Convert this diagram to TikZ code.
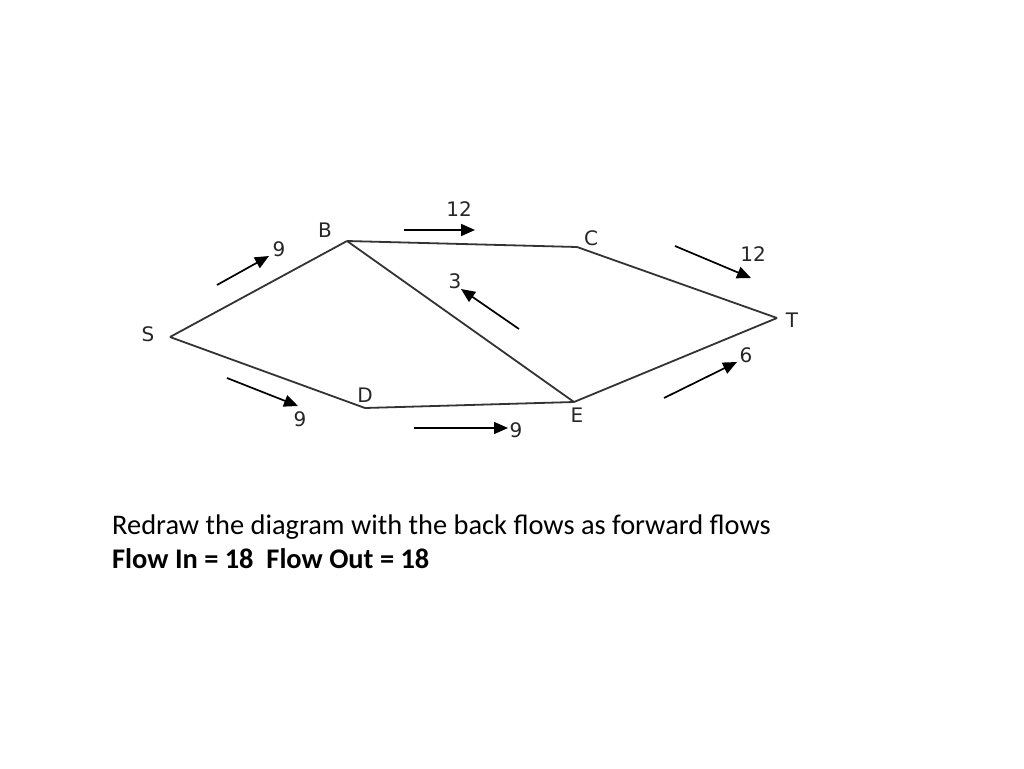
\documentclass[tikz,border=0pt]{standalone}
\usepackage{fontspec}
\setmainfont{Carlito}
\newfontfamily\lblfont{DejaVu Sans}
\usetikzlibrary{arrows.meta}
\begin{document}
\begin{tikzpicture}[x=1pt,y=-1pt,
  edge/.style={draw=black!80,line width=1.8pt},
  flow/.style={draw=black,line width=1.7pt,-{Triangle[length=14pt,width=12pt]}},
  vlbl/.style={font=\lblfont\fontsize{20}{20}\selectfont,inner sep=0pt,text=black!85},
  caption/.style={anchor=base west,inner sep=0pt,font=\fontsize{28.4}{32}\selectfont}]
\useasboundingbox (0,0) rectangle (1024,768);
% vertices
\coordinate (S) at (170,337);
\coordinate (B) at (347,241);
\coordinate (C) at (577,247);
\coordinate (T) at (777,318);
\coordinate (E) at (574,402);
\coordinate (D) at (365,408);
% edges
\draw[edge] (S) -- (B);
\draw[edge] (S) -- (D);
\draw[edge] (B) -- (C);
\draw[edge] (B) -- (E);
\draw[edge] (C) -- (T);
\draw[edge] (D) -- (E);
\draw[edge] (E) -- (T);
% vertex labels
\node[vlbl] (Sl) at (148,334) {S};
\node[vlbl] (Bl) at (325,230) {B};
\node[vlbl] (Cl) at (591,238) {C};
\node[vlbl] (Tl) at (792,320) {T};
\node[vlbl] (El) at (577,415) {E};
\node[vlbl] (Dl) at (365,395) {D};
% flow arrows
\coordinate (sb1) at (217,285); \coordinate (sb2) at (269,256);
\coordinate (sd1) at (227,378); \coordinate (sd2) at (298,406);
\coordinate (bc1) at (404,230); \coordinate (bc2) at (475,230);
\coordinate (eb1) at (519,329); \coordinate (eb2) at (461,289);
\coordinate (ct1) at (675,246); \coordinate (ct2) at (751,278);
\coordinate (de1) at (414,428); \coordinate (de2) at (508,428);
\coordinate (et1) at (664,398); \coordinate (et2) at (737,362);
\draw[flow] (sb1) -- (sb2);
\draw[flow] (sd1) -- (sd2);
\draw[flow] (bc1) -- (bc2);
\draw[flow] (eb1) -- (eb2);
\draw[flow] (ct1) -- (ct2);
\draw[flow] (de1) -- (de2);
\draw[flow] (et1) -- (et2);
% flow labels
\node[vlbl] (fsb) at (279,249) {9};
\node[vlbl] (fsd) at (300,419) {9};
\node[vlbl] (fbc) at (459,209) {12};
\node[vlbl] (feb) at (455,281) {3};
\node[vlbl] (fct) at (753,254) {12};
\node[vlbl] (fde) at (516,430) {9};
\node[vlbl] (fet) at (746,355) {6};
% caption
\node[caption] (cap1) at (112,534) {Redraw the diagram with the back flows as forward flows};
\node[caption] (cap2) at (112,568) {\bfseries Flow In = 18\ \ Flow Out = 18};
\end{tikzpicture}
\end{document}
